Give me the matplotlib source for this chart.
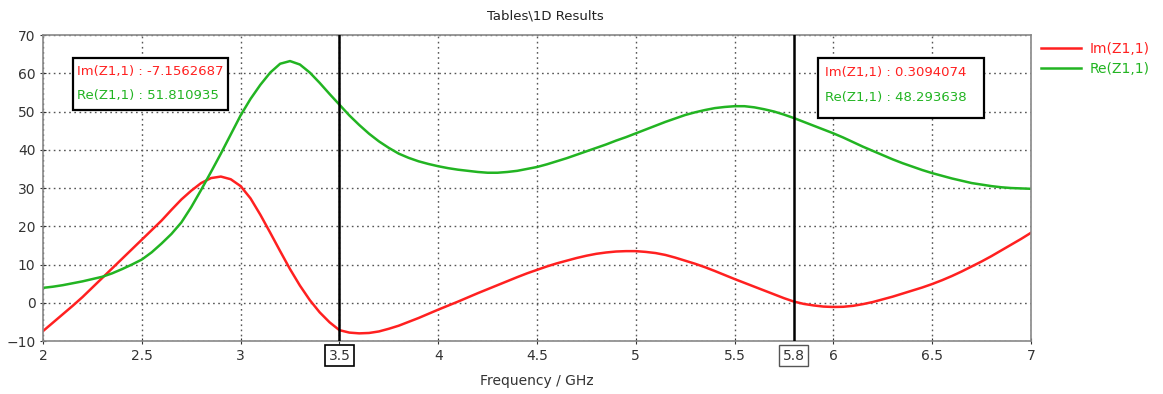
import numpy as np
import matplotlib
matplotlib.use("Agg")
import matplotlib.pyplot as plt

# Frequency samples (GHz), 0.05 GHz apart, and impedance values
freq = [round(2.0 + 0.05 * i, 2) for i in range(101)]

im_z11 = [-7.4, -5.2, -3.0, -0.8, 1.5, 4.0, 6.5, 9.0, 11.5, 14.0,
          16.5, 19.0, 21.5, 24.3, 27.0, 29.3, 31.3, 32.6, 33.0, 32.3,
          30.5, 27.3, 23.0, 18.3, 13.5, 8.8, 4.5, 0.7, -2.5, -5.1,
          -7.16, -7.8, -8.0, -7.9, -7.5, -6.8, -6.0, -5.0, -4.0, -2.9,
          -1.8, -0.75, 0.3, 1.4, 2.5, 3.55, 4.6, 5.65, 6.7, 7.7,
          8.6, 9.5, 10.3, 11.0, 11.7, 12.3, 12.8, 13.15, 13.4, 13.5,
          13.5, 13.3, 13.0, 12.5, 11.8, 11.0, 10.2, 9.3, 8.3, 7.25,
          6.2, 5.2, 4.2, 3.2, 2.2, 1.2, 0.31, -0.3, -0.7, -1.0,
          -1.1, -1.05, -0.8, -0.35, 0.2, 0.9, 1.6, 2.4, 3.2, 4.0,
          4.9, 5.9, 7.0, 8.2, 9.5, 10.8, 12.2, 13.7, 15.2, 16.7, 18.3]

re_z11 = [3.9, 4.2, 4.6, 5.1, 5.6, 6.2, 6.8, 7.7, 8.8, 10.0,
          11.3, 13.2, 15.5, 18.0, 21.0, 25.0, 29.5, 34.2, 39.0, 44.0,
          49.0, 53.3, 57.0, 60.2, 62.5, 63.2, 62.3, 60.2, 57.5, 54.6,
          51.8, 49.0, 46.5, 44.2, 42.2, 40.5, 39.0, 37.9, 37.0, 36.3,
          35.7, 35.2, 34.8, 34.5, 34.2, 34.0, 34.0, 34.2, 34.5, 35.0,
          35.5, 36.2, 37.0, 37.8, 38.7, 39.6, 40.5, 41.4, 42.4, 43.3,
          44.3, 45.3, 46.3, 47.3, 48.2, 49.1, 49.8, 50.4, 50.9, 51.2,
          51.4, 51.4, 51.1, 50.6, 50.0, 49.2, 48.3, 47.3, 46.3, 45.3,
          44.3, 43.2, 42.0, 40.8, 39.7, 38.6, 37.5, 36.5, 35.6, 34.7,
          33.9, 33.2, 32.5, 31.9, 31.3, 30.9, 30.5, 30.2, 30.0, 29.9, 29.8]

markers = [3.5, 5.8]
marker_im = ["Im(Z1,1) : -7.1562687", "Im(Z1,1) : 0.3094074"]
marker_re = ["Re(Z1,1) : 51.810935", "Re(Z1,1) : 48.293638"]

RED = "#ff2020"
GREEN = "#22b422"

fig = plt.figure(figsize=(11.63, 3.94), dpi=100)
ax = fig.add_axes([0.037, 0.1345, 0.8495, 0.7765])

ax.plot(freq, im_z11, color=RED, lw=1.8, label="Im(Z1,1)")
ax.plot(freq, re_z11, color=GREEN, lw=1.8, label="Re(Z1,1)")

for m in markers:
    ax.axvline(m, color="black", lw=1.8, zorder=5)

ax.set_xlim(2, 7)
ax.set_ylim(-10, 70)
ax.set_xticks(np.arange(2, 7.01, 0.5))
ax.set_xticklabels(["2", "2.5", "3", "3.5", "4", "4.5", "5", "5.5", "6", "6.5", "7"])
ax.set_yticks(np.arange(-10, 71, 10))
ax.grid(True, color="#555555", linestyle=(0, (1.2, 2.5)), lw=1.0)
ax.tick_params(labelsize=10, colors="#333333", length=4, direction="inout")
for s in ax.spines.values():
    s.set_color("#888888")
    s.set_linewidth(1.2)

# boxed tick label for the 3.5 marker, extra boxed label for 5.8
for lbl in ax.get_xticklabels():
    if lbl.get_text() == "3.5":
        lbl.set_bbox(dict(boxstyle="square,pad=0.25", fc="white", ec="black", lw=1.2))
ax.text(5.8, -12.0, "5.8", ha="center", va="top", fontsize=10, color="#333333",
        bbox=dict(boxstyle="square,pad=0.25", fc="white", ec="#555555", lw=1.0))

ax.set_xlabel("Frequency / GHz", fontsize=10, color="#333333", labelpad=8)
fig.text(0.469, 0.96, "Tables\\1D Results", ha="center", va="center", fontsize=9.5, color="#222222")

# marker readout boxes
boxes = [(2.15, 50.4, 0.785, 13.6), (5.92, 48.4, 0.84, 15.6)]
text_pos = [(2.17, 60.6, 54.3), (5.955, 60.1, 53.6)]
for (bx, by, bw, bh), (tx, y1, y2), t1, t2 in zip(boxes, text_pos, marker_im, marker_re):
    ax.add_patch(plt.Rectangle((bx, by), bw, bh, fc="white", ec="black", lw=1.6, zorder=6))
    ax.text(tx, y1, t1, ha="left", va="center", fontsize=9.5, color=RED, zorder=7)
    ax.text(tx, y2, t2, ha="left", va="center", fontsize=9.5, color=GREEN, zorder=7)

leg = fig.legend(loc="upper left", bbox_to_anchor=(0.884, 0.925), frameon=False,
                 fontsize=10, handlelength=2.9, handletextpad=0.6, labelspacing=0.45)
for t, c in zip(leg.get_texts(), [RED, GREEN]):
    t.set_color(c)

fig.savefig("out.png", dpi=100)
